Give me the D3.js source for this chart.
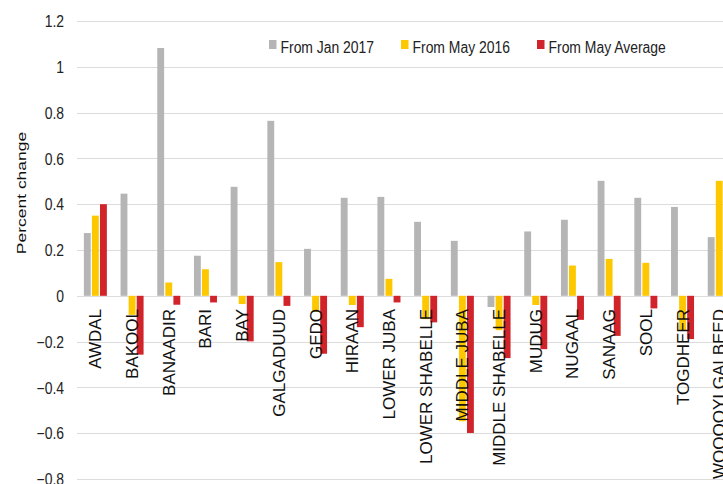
<!DOCTYPE html>
<html>
<head>
<meta charset="utf-8">
<script src="https://cdn.jsdelivr.net/npm/d3@7"></script>
<style>
  html, body { margin: 0; padding: 0; background: #fff; }
  svg { display: block; font-family: "Liberation Sans", Arial, sans-serif; }
</style>
</head>
<body>
<svg id="chart" width="723" height="484"></svg>
<script>
// Regions and the three percent-change series
const regions = ["AWDAL", "BAKOOL", "BANAADIR", "BARI", "BAY", "GALGADUUD", "GEDO", "HIRAAN",
  "LOWER JUBA", "LOWER SHABELLE", "MIDDLE JUBA", "MIDDLE SHABELLE", "MUDUG", "NUGAAL",
  "SANAAG", "SOOL", "TOGDHEER", "WOQOOYI GALBEED"];
const seriesNames = ["From Jan 2017", "From May 2016", "From May Average"];
const fromJan2017 = [0.274, 0.446, 1.082, 0.175, 0.476, 0.764, 0.205, 0.428, 0.432, 0.323,
  0.240, -0.049, 0.281, 0.332, 0.502, 0.428, 0.388, 0.256];
const fromMay2016 = [0.350, -0.083, 0.058, 0.116, -0.036, 0.147, -0.070, -0.040, 0.074, -0.102,
  -0.548, -0.150, -0.040, 0.132, 0.161, 0.144, -0.150, 0.502];
const fromMayAverage = [0.400, -0.257, -0.039, -0.029, -0.199, -0.044, -0.253, -0.137, -0.029, -0.116,
  -0.599, -0.272, -0.233, -0.105, -0.175, -0.055, -0.189, 0.320];
const yTicks = [-0.8, -0.6, -0.4, -0.2, 0, 0.2, 0.4, 0.6, 0.8, 1, 1.2];
const colors = ["#b5b5b5", "#fdc800", "#d1232a"];

const seriesValues = [fromJan2017, fromMay2016, fromMayAverage];
const svg = d3.select("#chart");
const squeeze = 0.87;

const x0 = d3.scaleBand().domain(regions).range([77, 737.6])
  .paddingInner(0.373).paddingOuter(0.187);
const x1 = d3.scaleBand().domain(seriesNames).range([0, x0.bandwidth()]).paddingInner(0.15);
const y = d3.scaleLinear().domain([-0.8, 1.2]).range([479, 21]);

// Gridlines
svg.append("g").selectAll("line").data(yTicks).join("line")
  .attr("x1", 77).attr("x2", 760)
  .attr("y1", d => Math.round(y(d)) + 0.5).attr("y2", d => Math.round(y(d)) + 0.5)
  .attr("stroke", "#dcdcdc").attr("stroke-width", 1.2);

// Y axis tick labels
const yAxis = svg.append("g").attr("transform", "translate(77,0)")
  .call(d3.axisLeft(y).tickValues(yTicks).tickSize(0).tickFormat(d => d3.format("")(+d.toFixed(1))));
yAxis.select(".domain").remove();
yAxis.selectAll("text")
  .attr("x", -13 / squeeze).attr("dy", "0.35em")
  .attr("transform", `scale(${squeeze},1)`)
  .attr("font-size", 16).attr("fill", "#222")
  .attr("font-family", "Liberation Sans, Arial, sans-serif");

// Bars
const groups = svg.append("g").selectAll("g").data(regions).join("g")
  .attr("transform", d => `translate(${x0(d)},0)`);
groups.selectAll("rect")
  .data((d, i) => seriesNames.map((s, k) => ({ s, k, v: seriesValues[k][i] })))
  .join("rect")
  .attr("x", d => x1(d.s))
  .attr("width", x1.bandwidth())
  .attr("y", d => y(Math.max(0, d.v)))
  .attr("height", d => Math.abs(y(d.v) - y(0)))
  .attr("fill", d => colors[d.k]);

// Category labels, rotated, hanging just below the zero line
svg.append("g").selectAll("text").data(regions).join("text")
  .attr("transform", d => `translate(${x0(d) + x0.bandwidth() / 2 + 6},309) rotate(-90)`)
  .attr("text-anchor", "end")
  .attr("font-size", 17).attr("fill", "#111")
  .text(d => d);

// Y axis title
svg.append("text")
  .attr("transform", "translate(26,193) scale(0.74,1) rotate(-90)")
  .attr("text-anchor", "middle")
  .attr("font-size", 17.5).attr("fill", "#111")
  .text("Percent change");

// Legend
const legendX = [269, 401, 537];
const legend = svg.append("g").selectAll("g").data(seriesNames).join("g")
  .attr("transform", (d, i) => `translate(${legendX[i]},0)`);
legend.append("rect").attr("x", 0).attr("y", 40).attr("width", 7.5).attr("height", 9)
  .attr("fill", (d, i) => colors[i]);
legend.append("text")
  .attr("transform", `translate(11.5,52.5) scale(${squeeze},1)`)
  .attr("font-size", 16).attr("fill", "#222")
  .text(d => d);
</script>
</body>
</html>
